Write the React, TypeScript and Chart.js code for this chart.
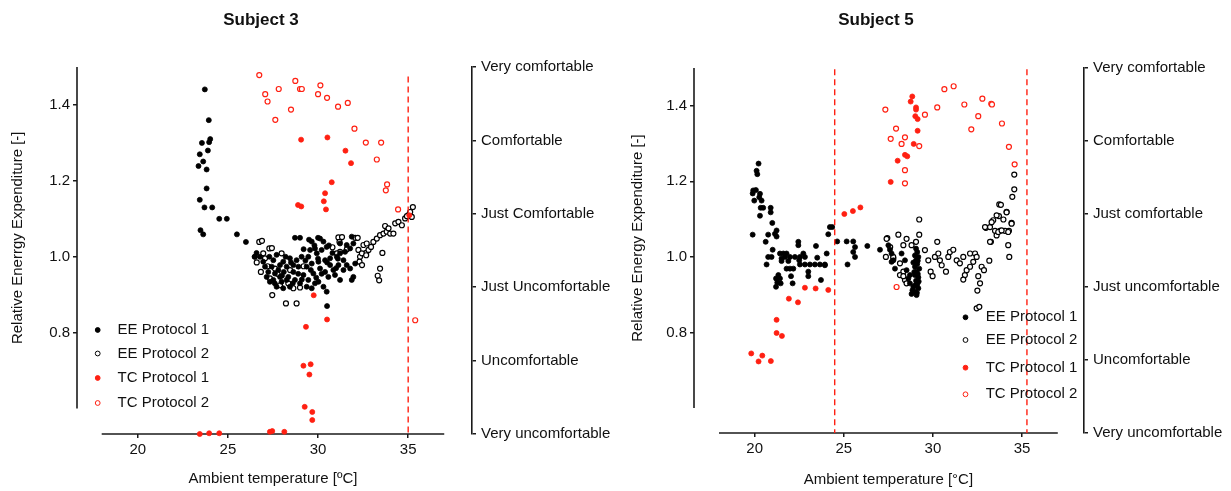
import React, { useEffect, useRef } from "react";
import { Chart, registerables } from "chart.js";

Chart.register(...registerables);

type Pt = [number, number];

// ---------- ticks / labels ----------
const X_TICKS = [20, 25, 30, 35];
const Y_TICKS = [0.8, 1.0, 1.2, 1.4];
const COMFORT_TICKS = [0, 1, 2, 3, 4, 5];
const S3_COMFORT = ["Very uncomfortable", "Uncomfortable", "Just Uncomfortable", "Just Comfortable", "Comfortable", "Very comfortable"];
const S5_COMFORT = ["Very uncomfortable", "Uncomfortable", "Just uncomfortable", "Just comfortable", "Comfortable", "Very comfortable"];
const LEGEND = ["EE Protocol 1", "EE Protocol 2", "TC Protocol 1", "TC Protocol 2"];
const S3_LIMITS = [35.0];
const S5_LIMITS = [24.49, 35.27];
const X_LINE = [18, 37];
const Y_LINE = [0.6, 1.5];

// ---------- Subject 3 ----------
const S3_EE1: Pt[] = [
  [23.72, 1.441], [23.94, 1.36], [24.02, 1.31], [23.96, 1.302], [23.56, 1.30], [23.89, 1.28], [23.44, 1.27],
  [23.63, 1.251], [23.37, 1.239], [23.82, 1.23], [23.82, 1.18], [23.44, 1.15], [23.7, 1.13], [24.13, 1.13],
  [24.52, 1.10], [24.94, 1.10], [23.48, 1.07], [23.63, 1.059], [25.5, 1.059], [26.0, 1.039], [26.48, 1.0], [26.59, 1.01],
  [28.72, 1.05], [29.0, 1.05], [29.65, 1.04], [30.11, 1.048], [30.3, 1.04], [29.83, 1.022], [29.56, 1.018],
  [30.2, 1.018], [30.48, 1.026], [31.22, 1.035], [31.59, 1.031], [31.87, 1.053], [31.96, 1.035], [31.78, 1.022],
  [31.5, 1.013], [31.22, 1.009], [31.04, 1.0], [30.67, 0.996], [30.39, 0.991], [30.02, 0.987], [29.65, 0.982],
  [29.37, 0.974], [29.09, 1.0], [28.81, 0.991], [28.44, 0.996], [28.07, 0.987], [27.89, 0.978], [27.52, 0.991],
  [27.43, 0.974], [27.24, 0.96], [27.15, 0.947], [27.52, 0.939], [27.7, 0.921], [27.98, 0.934], [28.35, 0.947],
  [28.63, 0.96], [28.91, 0.974], [29.19, 0.952], [29.46, 0.939], [29.74, 0.956], [30.02, 0.934], [30.3, 0.921],
  [30.57, 0.947], [30.85, 0.965], [31.13, 0.978], [31.41, 0.991], [31.59, 0.978], [31.78, 0.969], [32.06, 0.982],
  [31.96, 0.947], [31.87, 0.939], [30.48, 0.908], [30.5, 0.87], [28.44, 0.921], [28.07, 0.917], [27.8, 0.965],
  [28.26, 0.974], [28.72, 0.939], [29.37, 0.921], [29.83, 0.93], [26.96, 0.987], [26.78, 1.0], [26.5, 1.0],
  [27.06, 0.974], [27.61, 0.956], [28.26, 0.939], [29.0, 0.93], [29.65, 0.917], [30.11, 0.969], [30.67, 0.978],
  [29.93, 1.009], [29.46, 1.0], [28.63, 0.978], [27.89, 0.947], [27.33, 0.934], [30.39, 0.96], [30.94, 0.952],
  [31.22, 0.939], [31.41, 0.965], [27.3, 1.0], [27.7, 1.005], [28.1, 0.96], [28.5, 0.985], [28.9, 0.955],
  [29.3, 0.99], [29.6, 0.965], [29.9, 0.945], [30.2, 0.955], [30.5, 0.985], [30.8, 1.01], [31.1, 0.995],
  [29.2, 1.02], [29.8, 1.03], [30.6, 1.03], [28.2, 1.0], [27.6, 0.93], [28.6, 0.93], [29.1, 0.94], [30.0, 0.995],
  [31.0, 0.97], [29.5, 1.045], [30.0, 1.05], [28.0, 0.95],
];
const S3_EE2: Pt[] = [
  [26.74, 1.039], [27.3, 1.022], [27.98, 1.009], [26.83, 0.96], [27.46, 0.899], [28.22, 0.877], [28.81, 0.877],
  [29.0, 0.919], [31.13, 1.051], [31.19, 1.039], [32.06, 1.05], [31.22, 1.013], [32.24, 1.018], [32.52, 1.031],
  [32.67, 1.01], [32.8, 1.018], [32.94, 1.026], [33.07, 1.039], [33.26, 1.048], [33.44, 1.057], [33.63, 1.061],
  [33.81, 1.066], [34.0, 1.061], [34.18, 1.061], [33.72, 1.081], [33.91, 1.075], [34.28, 1.088], [34.46, 1.092],
  [34.65, 1.083], [34.83, 1.101], [35.02, 1.11], [35.26, 1.131], [35.11, 1.118], [35.2, 1.105], [34.93, 1.107],
  [32.33, 1.0], [32.3, 0.987], [33.57, 1.01], [33.44, 0.969], [33.31, 0.95], [33.39, 0.938], [31.04, 1.009],
  [32.7, 1.035], [32.43, 1.009], [26.96, 1.009], [27.61, 0.969], [27.33, 0.943], [27.89, 0.925], [28.35, 0.93],
  [28.63, 0.917], [27.06, 0.996], [31.33, 1.052], [32.2, 1.05], [26.89, 1.042], [27.44, 1.023], [32.44, 0.978],
  [32.67, 1.004], [27.2, 0.975], [27.75, 0.955], [28.45, 0.965], [29.2, 0.975], [30.8, 1.025], [31.6, 1.02],
  [26.6, 0.985],
];
const S3_TC1: Pt[] = [
  [29.06, 4.01], [30.52, 4.04], [31.52, 3.86], [31.83, 3.69], [30.76, 3.43], [30.39, 3.28], [30.32, 3.17],
  [30.44, 3.06], [28.89, 3.12], [29.07, 3.10], [35.06, 2.98], [29.76, 1.89], [30.5, 1.56], [29.33, 1.46],
  [29.19, 0.93], [29.59, 0.95], [29.52, 0.81], [29.26, 0.37], [29.68, 0.30], [29.68, 0.19], [23.44, 0.0],
  [23.96, 0.01], [24.52, 0.01], [27.33, 0.03], [27.46, 0.04], [28.13, 0.03],
];
const S3_TC2: Pt[] = [
  [26.74, 4.89], [27.07, 4.63], [27.2, 4.53], [27.82, 4.70], [27.63, 4.28], [28.74, 4.81], [29.0, 4.70],
  [29.1, 4.70], [28.5, 4.42], [30.13, 4.75], [30.0, 4.63], [30.5, 4.58], [31.11, 4.46], [31.65, 4.51],
  [32.02, 4.16], [32.65, 3.97], [33.5, 3.97], [33.26, 3.74], [33.83, 3.40], [33.76, 3.32], [34.44, 3.06],
  [35.39, 1.55],
];

// ---------- Subject 5 ----------
const S5_EE1: Pt[] = [
  [20.22, 1.247], [20.11, 1.228], [20.15, 1.219], [19.92, 1.176], [20.07, 1.177], [19.89, 1.168], [20.3, 1.167],
  [20.26, 1.158], [19.98, 1.149], [20.39, 1.149], [20.34, 1.13], [20.48, 1.13], [20.9, 1.13], [20.9, 1.118],
  [20.3, 1.109], [20.99, 1.09], [21.23, 1.07], [21.14, 1.061], [21.23, 1.054], [19.89, 1.059], [20.76, 1.059],
  [20.62, 1.04], [21.01, 1.019], [22.45, 1.04], [22.45, 1.031], [23.44, 1.029], [24.22, 1.079], [24.35, 1.079],
  [24.13, 1.06], [24.63, 1.041], [25.16, 1.041], [25.53, 1.041], [25.63, 1.026], [25.53, 1.013], [25.63, 1.0],
  [25.21, 0.98], [26.32, 1.029], [27.03, 1.019], [24.04, 1.009], [23.51, 0.998], [23.94, 0.978],
  [20.76, 1.0], [20.95, 1.0], [20.67, 0.98], [21.42, 1.009], [21.61, 1.009], [21.79, 1.009], [21.51, 0.996],
  [21.7, 1.0], [21.98, 1.0], [22.26, 1.0], [22.54, 1.0], [22.82, 1.0], [21.51, 0.989], [21.89, 0.989],
  [22.73, 1.009], [22.54, 0.98], [22.82, 0.98], [23.1, 0.98], [23.38, 0.98], [23.66, 0.98], [23.94, 0.98],
  [21.79, 0.969], [21.98, 0.969], [22.17, 0.969], [23.01, 0.961], [23.01, 0.949], [21.33, 0.952], [21.2, 0.943],
  [21.42, 0.943], [21.27, 0.932], [21.2, 0.921], [21.46, 0.93], [22.04, 0.949], [22.13, 0.93], [23.72, 0.939],
  [22.5, 0.991], [27.5, 1.031], [27.59, 1.019], [27.68, 1.009], [27.78, 0.991], [27.87, 0.969], [27.68, 0.987],
  [28.24, 1.009], [28.43, 0.991], [28.52, 0.965], [28.71, 0.952], [28.62, 0.943], [28.71, 0.93],
  [29.05, 1.022], [29.12, 1.013], [28.99, 1.004], [29.18, 1.0], [29.05, 0.991], [29.12, 0.982], [28.99, 0.974],
  [29.23, 0.969], [29.08, 0.961], [28.99, 0.952], [29.18, 0.946], [29.05, 0.937], [29.12, 0.928], [28.9, 0.921],
  [29.18, 0.917], [28.99, 0.908], [28.8, 0.902], [29.08, 0.899], [29.15, 0.99], [28.95, 0.96], [29.2, 0.935],
  [29.0, 0.925], [29.1, 0.905], [28.85, 0.912], [29.15, 0.955], [28.9, 0.985],
];
const S5_EE2: Pt[] = [
  [34.56, 1.218], [34.56, 1.179], [34.45, 1.159], [33.72, 1.139], [33.81, 1.138], [33.7, 1.108], [34.13, 1.119],
  [33.38, 1.097], [33.95, 1.099], [34.41, 1.09], [32.97, 1.077], [33.2, 1.079], [33.48, 1.069], [33.76, 1.069],
  [34.04, 1.069], [34.26, 1.069], [33.57, 1.057], [33.25, 1.04], [29.23, 1.099], [29.23, 1.059], [30.24, 1.04],
  [28.06, 1.059], [27.44, 1.05], [28.52, 1.048], [29.05, 1.04], [27.4, 1.048], [28.8, 1.031], [28.34, 1.031],
  [27.36, 1.0], [27.78, 0.996], [28.15, 0.983], [28.34, 0.961], [28.15, 0.952], [28.43, 0.939], [28.52, 0.93],
  [28.34, 0.949], [29.55, 1.018], [29.74, 0.991], [29.87, 0.961], [29.98, 0.949], [30.11, 1.0], [30.3, 1.009],
  [30.39, 0.991], [30.49, 0.978], [30.73, 0.961], [30.86, 1.0], [30.95, 1.013], [31.14, 1.019], [31.33, 0.991],
  [31.51, 0.983], [31.7, 1.0], [31.89, 0.965], [32.08, 1.009], [32.36, 1.009], [32.45, 1.0], [32.26, 0.987],
  [31.79, 0.952], [31.7, 0.94], [32.08, 0.974], [32.73, 0.974], [32.86, 0.965], [32.54, 0.949], [32.64, 0.93],
  [32.49, 0.911], [32.45, 0.864], [32.6, 0.868], [33.16, 0.99], [33.57, 1.11], [34.13, 1.118], [34.41, 1.088],
  [32.92, 1.079], [33.29, 1.092], [33.66, 1.066], [33.85, 1.07], [34.22, 1.066], [33.2, 1.04], [34.22, 1.031],
  [34.28, 1.0], [27.6, 1.026], [27.77, 1.0],
];
const S5_TC1: Pt[] = [
  [25.03, 3.0], [25.51, 3.04], [25.93, 3.09], [27.63, 3.44], [28.02, 3.73], [22.82, 1.99], [23.42, 1.98],
  [24.13, 1.96], [21.92, 1.84], [22.43, 1.79], [21.23, 1.55], [21.23, 1.37], [21.53, 1.33], [19.81, 1.09],
  [20.22, 0.98], [20.43, 1.06], [20.91, 0.985], [28.84, 4.61], [28.75, 4.54], [29.05, 4.46], [29.05, 4.43],
  [29.01, 4.34], [29.14, 4.30], [29.14, 4.14], [28.92, 3.96], [28.43, 3.81], [28.56, 3.79],
];
const S5_TC2: Pt[] = [
  [27.96, 2.0], [27.33, 4.43], [27.93, 4.17], [27.63, 4.03], [28.43, 4.05], [28.24, 3.96], [29.23, 3.93],
  [28.43, 3.60], [28.43, 3.42], [29.55, 4.36], [30.24, 4.46], [30.64, 4.71], [31.16, 4.75], [31.76, 4.50],
  [32.77, 4.58], [33.27, 4.51], [33.31, 4.50], [32.54, 4.34], [32.15, 4.16], [33.87, 4.24], [34.26, 3.92],
  [34.58, 3.68],
];

// ---------- styling ----------
const FONT = '"Liberation Sans", Arial, Helvetica, sans-serif';
const RED = "rgb(255,32,18)";
const AXIS = "#1a1a1a";
const TEXT = "#111";
const FS = 15;

const STYLES = [
  { fill: "#000", stroke: "#000", axis: "y", order: 2, radius: 2.5, bw: 0.8 },
  { fill: "#fff", stroke: "#000", axis: "y", order: 3, radius: 2.5, bw: 1.2 },
  { fill: RED, stroke: RED, axis: "y2", order: 0, radius: 2.5, bw: 0.8 },
  { fill: "#fff", stroke: RED, axis: "y2", order: 1, radius: 2.5, bw: 1.2 },
];

const PANELS = [
  {
    left: 0, width: 615, title: "Subject 3", titleX: 261, titleY: 20,
    yTitle: "Relative Enerrgy Expenditure [-]", yTitleX: 18.3,
    xTitle: "Ambient temperature [\u00baC]", xTitleY: 479,
    comfort: S3_COMFORT, limits: S3_LIMITS, limitTop: 1.475,
    xMin: 16.63, xMax: 38.54, yMin: 0.533, yMax: 1.5,
    yW: 77, y2W: 143, top: 67, xH: 57,
    legendX: 97.7, legendTextX: 117.5, legendY: [330, 353.5, 378, 403],
    data: [S3_EE1, S3_EE2, S3_TC1, S3_TC2],
  },
  {
    left: 615, width: 616, title: "Subject 5", titleX: 261, titleY: 20,
    yTitle: "Relative Energy Expenditure [-]", yTitleX: 22.7,
    xTitle: "Ambient temperature [\u00b0C]", xTitleY: 480,
    comfort: S5_COMFORT, limits: S5_LIMITS, limitTop: 1.497,
    xMin: 16.6, xMax: 38.47, yMin: 0.534, yMax: 1.5,
    yW: 79, y2W: 147, top: 68, xH: 58,
    legendX: 350.5, legendTextX: 370.7, legendY: [317.3, 340, 367.7, 394.3],
    data: [S5_EE1, S5_EE2, S5_TC1, S5_TC2],
  },
];

type PanelCfg = (typeof PANELS)[number];

function makePlugin(p: PanelCfg) {
  return {
    id: "decor",
    beforeDatasetsDraw(chart: any) {
      const { ctx, chartArea: ca, scales } = chart;
      const x = scales.x, y = scales.y;
      ctx.save();
      ctx.strokeStyle = AXIS;
      ctx.lineWidth = 1.6;
      ctx.beginPath();
      ctx.moveTo(ca.left, y.getPixelForValue(Y_LINE[1]));
      ctx.lineTo(ca.left, y.getPixelForValue(Y_LINE[0]));
      ctx.stroke();
      ctx.beginPath();
      ctx.moveTo(x.getPixelForValue(X_LINE[0]), ca.bottom);
      ctx.lineTo(x.getPixelForValue(X_LINE[1]), ca.bottom);
      ctx.stroke();
      ctx.restore();
    },
    afterDatasetsDraw(chart: any) {
      const { ctx, chartArea: ca, scales } = chart;
      const x = scales.x, y = scales.y;
      ctx.save();
      ctx.strokeStyle = RED;
      ctx.lineWidth = 1.4;
      ctx.setLineDash([6, 4]);
      for (const v of p.limits) {
        const px = x.getPixelForValue(v);
        ctx.beginPath();
        ctx.moveTo(px, y.getPixelForValue(p.limitTop));
        ctx.lineTo(px, ca.bottom);
        ctx.stroke();
      }
      ctx.restore();
    },
    afterDraw(chart: any) {
      const { ctx, scales } = chart;
      const x = scales.x, y = scales.y;
      ctx.save();
      ctx.fillStyle = TEXT;
      ctx.font = `bold 17px ${FONT}`;
      ctx.textAlign = "center";
      ctx.textBaseline = "middle";
      ctx.fillText(p.title, p.titleX, p.titleY);
      ctx.font = `${FS}px ${FONT}`;
      const xc = (x.getPixelForValue(X_LINE[0]) + x.getPixelForValue(X_LINE[1])) / 2;
      ctx.fillText(p.xTitle, xc, p.xTitleY);
      const yc = (y.getPixelForValue(Y_LINE[0]) + y.getPixelForValue(Y_LINE[1])) / 2;
      ctx.save();
      ctx.translate(p.yTitleX, yc);
      ctx.rotate(-Math.PI / 2);
      ctx.fillText(p.yTitle, 0, 0);
      ctx.restore();
      ctx.textAlign = "left";
      LEGEND.forEach((label, i) => {
        const s = STYLES[i];
        const ly = p.legendY[i];
        ctx.beginPath();
        ctx.arc(p.legendX, ly, 2.4, 0, Math.PI * 2);
        ctx.fillStyle = s.fill;
        ctx.fill();
        ctx.lineWidth = 1;
        ctx.strokeStyle = s.stroke;
        ctx.stroke();
        ctx.fillStyle = TEXT;
        ctx.fillText(label, p.legendTextX, ly);
      });
      ctx.restore();
    },
  };
}

function Panel({ p }: { p: PanelCfg }) {
  const ref = useRef<HTMLCanvasElement>(null);
  useEffect(() => {
    const tickFont = { family: FONT, size: FS };
    const gridCommon = { drawOnChartArea: false, drawTicks: true, tickLength: 4, color: AXIS, lineWidth: 1.5 };
    const chart = new Chart(ref.current as HTMLCanvasElement, {
      type: "scatter",
      data: {
        datasets: p.data.map((pts, i) => ({
          label: LEGEND[i],
          data: pts.map(([vx, vy]) => ({ x: vx, y: vy })),
          yAxisID: STYLES[i].axis,
          order: STYLES[i].order,
          pointRadius: STYLES[i].radius,
          pointBorderWidth: STYLES[i].bw,
          pointBackgroundColor: STYLES[i].fill,
          pointBorderColor: STYLES[i].stroke,
          showLine: false,
          clip: false as any,
        })),
      },
      options: {
        animation: false,
        responsive: false,
        events: [],
        layout: { padding: { top: p.top, left: 0, right: 0, bottom: 0 } },
        plugins: { legend: { display: false }, tooltip: { enabled: false }, title: { display: false } },
        scales: {
          x: {
            type: "linear",
            min: p.xMin,
            max: p.xMax,
            afterBuildTicks: (s: any) => { s.ticks = X_TICKS.map((v) => ({ value: v })); },
            afterFit: (s: any) => { s.height = p.xH; },
            border: { display: false },
            grid: gridCommon,
            ticks: { font: tickFont, color: TEXT, padding: 3, callback: (v: any) => String(v) },
          },
          y: {
            type: "linear",
            position: "left",
            min: p.yMin,
            max: p.yMax,
            afterBuildTicks: (s: any) => { s.ticks = Y_TICKS.map((v) => ({ value: v })); },
            afterFit: (s: any) => { s.width = p.yW; },
            border: { display: false },
            grid: gridCommon,
            ticks: { font: tickFont, color: TEXT, padding: 3, callback: (v: any) => Number(v).toFixed(1) },
          },
          y2: {
            type: "linear",
            position: "right",
            min: 0,
            max: 5,
            afterBuildTicks: (s: any) => { s.ticks = COMFORT_TICKS.map((v) => ({ value: v })); },
            afterFit: (s: any) => { s.width = p.y2W; },
            border: { display: true, color: AXIS, width: 1.6 },
            grid: gridCommon,
            ticks: { font: tickFont, color: TEXT, padding: 5, autoSkip: false, callback: (v: any) => p.comfort[Math.round(Number(v))] },
          },
        },
      } as any,
      plugins: [makePlugin(p)],
    });
    return () => chart.destroy();
  }, []);
  return (
    <div style={{ position: "absolute", left: p.left, top: 0, width: p.width, height: 491 }}>
      <canvas ref={ref} width={p.width} height={491} style={{ display: "block" }} />
    </div>
  );
}

export default function App() {
  return (
    <div style={{ position: "fixed", left: 0, top: 0, width: 1231, height: 491, background: "#fff", overflow: "hidden" }}>
      {PANELS.map((p) => (
        <Panel key={p.title} p={p} />
      ))}
    </div>
  );
}
